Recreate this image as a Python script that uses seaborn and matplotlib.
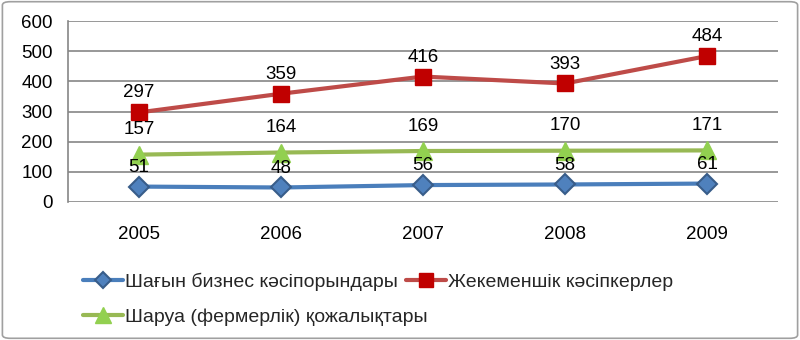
import matplotlib
matplotlib.use("Agg")
import matplotlib.pyplot as plt
import seaborn as sns
import pandas as pd
from matplotlib.patches import FancyBboxPatch

years = ["2005", "2006", "2007", "2008", "2009"]
small_business = [51, 48, 56, 58, 61]
private_entrepreneurs = [297, 359, 416, 393, 484]
farms = [157, 164, 169, 170, 171]
series_names = ["Шағын бизнес кәсіпорындары", "Жекеменшік кәсіпкерлер", "Шаруа (фермерлік) қожалықтары"]
y_ticks = [0, 100, 200, 300, 400, 500, 600]

sns.set_theme(style="white")
plt.rcParams['font.family'] = ['Liberation Sans', 'DejaVu Sans']

fig = plt.figure(figsize=(8, 3.4), dpi=100)
ax = fig.add_axes([0.085, 0.406, 0.8875, 0.532])

styles = [
    dict(color="#4A7EBB", marker="D", mfc="#4F81BD", mec="#385D8A", ms=10, mew=1.5, off=14),
    dict(color="#BE4B48", marker="s", mfc="#C00000", mec="#C00000", ms=11.5, mew=1, off=14),
    dict(color="#98B954", marker="^", mfc="#92D050", mec="#92D050", ms=13, mew=1, off=18),
]
values = [small_business, private_entrepreneurs, farms]
for name, vals, st in zip(series_names, values, styles):
    df = pd.DataFrame({"x": range(len(years)), "y": vals})
    sns.lineplot(data=df, x="x", y="y", ax=ax, color=st["color"], linewidth=3,
                 marker=st["marker"], markersize=st["ms"], markerfacecolor=st["mfc"],
                 markeredgecolor=st["mec"], markeredgewidth=st["mew"], label=name, legend=False)
    for i, v in enumerate(vals):
        ax.annotate(str(v), (i, v), xytext=(0, st["off"]), textcoords="offset points",
                    ha="center", va="center", fontsize=13.5, color="black")

ax.set_xlim(-0.5, len(years) - 0.5)
ax.set_ylim(0, 600)
ax.set_yticks(y_ticks)
ax.set_xticks(range(len(years)))
ax.set_xticklabels(years)
ax.set_xlabel("")
ax.set_ylabel("")
ax.tick_params(axis="both", labelsize=13.5, length=0, colors="black")
ax.tick_params(axis="y", pad=11)
ax.tick_params(axis="x", pad=17)
ax.grid(axis="y", color="#868686", linewidth=1.2)
ax.set_axisbelow(True)
for s in ["top", "right", "bottom"]:
    ax.spines[s].set_visible(False)
ax.spines["left"].set_color("#868686")
ax.spines["left"].set_linewidth(1.2)

series_lines = [l for l in ax.get_lines() if l.get_label() in series_names]
leg_kw = dict(loc="center left", frameon=False, fontsize=14, handlelength=2.05,
              handletextpad=0.12, columnspacing=0.4, borderaxespad=0, borderpad=0,
              markerscale=0.85)
fig.legend(series_lines[:2], series_names[:2], bbox_to_anchor=(0.104, 0.171), ncol=2, **leg_kw)
fig.legend(series_lines[2:], series_names[2:], bbox_to_anchor=(0.104, 0.068), ncol=1, **leg_kw)

border = FancyBboxPatch((0.003, 0.005), 0.994, 0.99, boxstyle="round,pad=0,rounding_size=0.01",
                        transform=fig.transFigure, fill=False, edgecolor="#A0A0A0", linewidth=1.2)
fig.patches.append(border)

fig.savefig("out.png", dpi=100)
